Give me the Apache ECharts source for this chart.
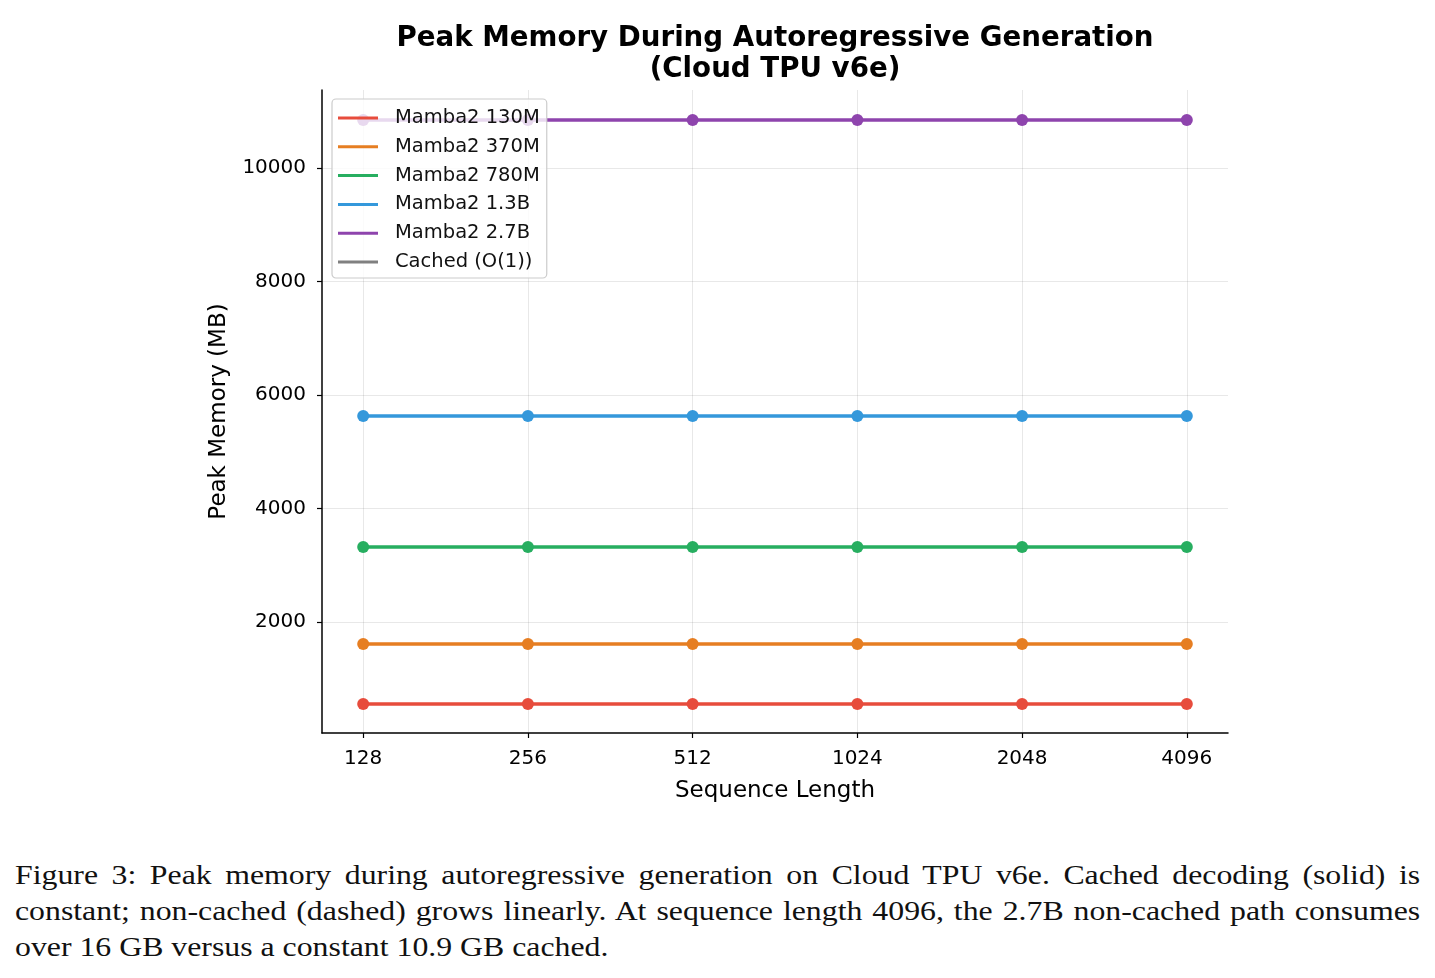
<!DOCTYPE html>
<html>
<head>
<meta charset="utf-8">
<script src="https://cdn.jsdelivr.net/npm/echarts@6/dist/echarts.min.js"></script>
<style>
  html, body { margin: 0; padding: 0; background: #fff; }
  #chart { position: absolute; left: 0; top: 0; width: 1435px; height: 840px; }
  #caption { position: absolute; left: 15px; top: 857px; width: 1171px;
    transform: scaleX(1.2); transform-origin: 0 0;
    font-family: "Liberation Serif", "DejaVu Serif", serif; font-size: 26.5px; line-height: 36px; color: #111; }
  #caption div { text-align: justify; text-align-last: justify; white-space: nowrap; }
  #caption div.last { text-align-last: left; }
</style>
</head>
<body>
<div id="chart"></div>
<div id="caption">
  <div>Figure 3: Peak memory during autoregressive generation on Cloud TPU v6e. Cached decoding (solid) is</div>
  <div>constant; non-cached (dashed) grows linearly. At sequence length 4096, the 2.7B non-cached path consumes</div>
  <div class="last">over 16 GB versus a constant 10.9 GB cached.</div>
</div>
<script>
// data
const seqLengths = ['128', '256', '512', '1024', '2048', '4096'];
const mem130M = [555, 555, 555, 555, 555, 555];
const mem370M = [1612, 1612, 1612, 1612, 1612, 1612];
const mem780M = [3322, 3322, 3322, 3322, 3322, 3322];
const mem1_3B = [5630, 5630, 5630, 5630, 5630, 5630];
const mem2_7B = [10846, 10846, 10846, 10846, 10846, 10846];
const yTicks = [2000, 4000, 6000, 8000, 10000];

const models = [
  { name: 'Mamba2 130M', color: '#e74c3c', values: mem130M },
  { name: 'Mamba2 370M', color: '#e67e22', values: mem370M },
  { name: 'Mamba2 780M', color: '#27ae60', values: mem780M },
  { name: 'Mamba2 1.3B', color: '#3498db', values: mem1_3B },
  { name: 'Mamba2 2.7B', color: '#8e44ad', values: mem2_7B }
];

const font = 'DejaVu Sans';
const xIdx = seqLengths.map((_, i) => i);

const series = models.map(m => ({
  name: m.name,
  type: 'line',
  data: m.values.map((v, i) => [i, v]),
  symbol: 'circle',
  symbolSize: 12,
  lineStyle: { width: 3.5, color: m.color },
  itemStyle: { color: m.color },
  emphasis: { disabled: true },
  z: 3
}));
// legend-only entry
series.push({
  name: 'Cached (O(1))', type: 'line', data: [],
  lineStyle: { color: '#808080', width: 3 }, itemStyle: { color: '#808080' }
});

const chart = echarts.init(document.getElementById('chart'), null, { renderer: 'canvas' });
chart.setOption({
  animation: false,
  title: {
    text: 'Peak Memory During Autoregressive Generation\n(Cloud TPU v6e)',
    left: 775, top: 23, padding: 0, textAlign: 'center',
    textStyle: { fontFamily: font, fontWeight: 'bold', fontSize: 27.7, lineHeight: 31, color: '#000' }
  },
  legend: {
    orient: 'vertical', left: 332, top: 99,
    padding: [9, 7, 6, 6],
    itemGap: 8.8,
    itemWidth: 40, itemHeight: 3,
    icon: 'rect',
    backgroundColor: 'rgba(255,255,255,0.8)',
    borderColor: '#cccccc', borderWidth: 1.2, borderRadius: 4,
    textStyle: { fontFamily: font, fontSize: 19.5, lineHeight: 20, color: '#111', padding: [0, 0, 0, 12] },
    data: series.map(s => ({ name: s.name, itemStyle: { color: s.lineStyle.color } }))
  },
  grid: { left: 322, right: 1435 - 1228, top: 90, bottom: 840 - 733, containLabel: false },
  xAxis: {
    type: 'value', min: -0.25, max: 5.25,
    name: 'Sequence Length', nameLocation: 'middle', nameGap: 47,
    nameTextStyle: { fontFamily: font, fontSize: 23, color: '#000' },
    axisLine: { show: true, onZero: false, lineStyle: { color: '#000', width: 1.5 } },
    axisTick: { show: true, length: 5, lineStyle: { color: '#000', width: 1.2 }, customValues: xIdx },
    axisLabel: { fontFamily: font, fontSize: 20, color: '#000', margin: 16, customValues: xIdx,
      formatter: v => seqLengths[Math.round(v)] },
    splitLine: { show: true, lineStyle: { color: 'rgba(0,0,0,0.09)', width: 1 } }
  },
  yAxis: {
    type: 'value', min: 44, max: 11374,
    name: 'Peak Memory (MB)', nameLocation: 'middle', nameGap: 91, nameRotate: 90,
    nameTextStyle: { fontFamily: font, fontSize: 23, color: '#000' },
    axisLine: { show: true, onZero: false, lineStyle: { color: '#000', width: 1.5 } },
    axisTick: { show: true, length: 5, lineStyle: { color: '#000', width: 1.2 }, customValues: yTicks },
    axisLabel: { fontFamily: font, fontSize: 20, color: '#000', margin: 16, customValues: yTicks,
      formatter: v => String(v) },
    splitLine: { show: true, lineStyle: { color: 'rgba(0,0,0,0.09)', width: 1 } }
  },
  series: series
});
</script>
</body>
</html>
